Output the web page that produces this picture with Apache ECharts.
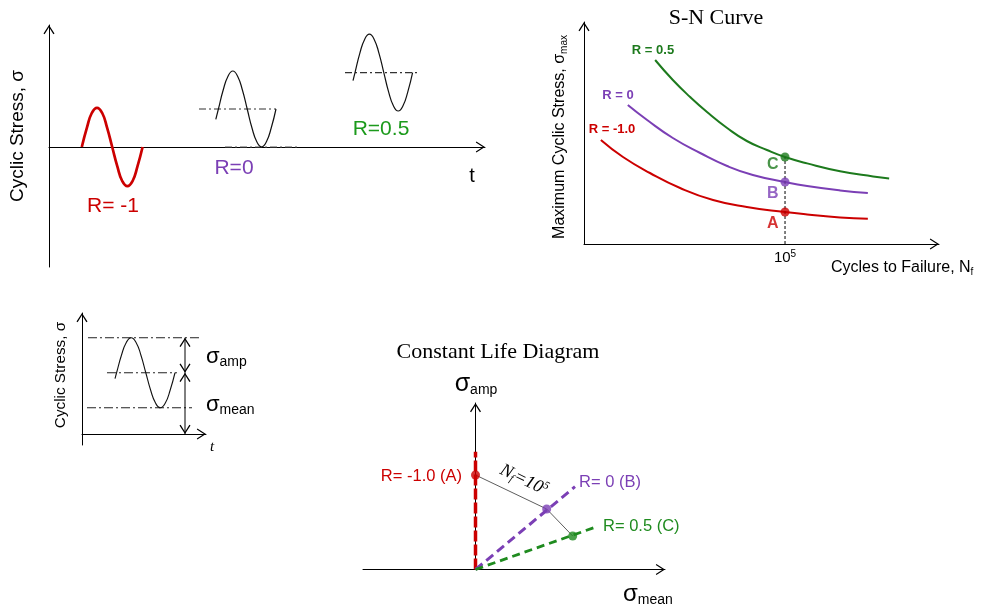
<!DOCTYPE html>
<html>
<head>
<meta charset="utf-8">
<script src="https://cdn.jsdelivr.net/npm/echarts@6/dist/echarts.min.js"></script>
<style>
  html, body { margin: 0; padding: 0; background: #fff; }
  #chart { width: 981px; height: 608px; }
</style>
</head>
<body>
<div id="chart"></div>
<script>
// ---------- Cyclic stress histories (t, σ), σ in units of the fully reversed amplitude ----------
const waveRm1 = [[0.82,0],[0.95,0.49],[1.07,0.85],[1.20,0.98],[1.33,0.85],[1.45,0.49],[1.58,0],
                 [1.71,-0.49],[1.83,-0.85],[1.96,-0.98],[2.09,-0.85],[2.21,-0.49],[2.34,0]];
const waveR0 = [[4.17,0.69],[4.235,0.95],[4.355,1.425],[4.475,1.77],[4.595,1.90],[4.715,1.77],[4.835,1.425],
                [4.955,0.95],[5.075,0.475],[5.195,0.13],[5.315,0.0],[5.435,0.13],[5.555,0.475],[5.675,0.95]];
const meanR0 = [[3.75,0.95],[5.675,0.95]];
const minR0 = [[4.4,0],[6.275,0]];
const waveR05 = [[7.60,1.66],[7.65,1.86],[7.77,2.34],[7.89,2.69],[8.01,2.82],[8.13,2.69],[8.25,2.34],
                 [8.37,1.86],[8.49,1.38],[8.61,1.03],[8.73,0.90],[8.85,1.03],[8.97,1.38],[9.09,1.86]];
const meanR05 = [[7.40,1.86],[9.275,1.86]];

// ---------- S-N curves: x = log10(cycles to failure), y = maximum cyclic stress ----------
const snR05 = [[1.77,92],[2.21,82],[2.64,73.5],[3.06,66],[3.56,58],[4.05,51.5],[4.55,47],[5.0,43.5],
               [5.55,40.3],[6.37,36.4],[7.19,33.8],[7.59,32.8]];
const snR0 = [[1.09,69.5],[1.57,62],[2.21,53],[2.89,45.5],[3.56,39],[4.20,34.5],[5.0,31],[5.55,29],
              [6.37,26.8],[7.06,25.5]];
const snRm1 = [[0.42,52],[0.97,43.5],[1.64,35.5],[2.39,28],[3.21,22],[4.05,18.5],[5.0,16],[5.55,14.8],
               [6.37,13.3],[7.06,12.6]];
const snLogLife = 5;                       // N_f = 10^5
const snPointNames = ['A', 'B', 'C'];
const snPointStress = [16, 31, 43.5];

// ---------- Amplitude / mean definition sketch ----------
const defWave = [[0.943,1.58],[0.988,1.75],[1.127,2.25],[1.266,2.616],[1.405,2.75],[1.545,2.616],[1.684,2.25],
                 [1.823,1.75],[1.962,1.25],[2.101,0.884],[2.24,0.75],[2.38,0.884],[2.518,1.25],[2.657,1.75]];
const defMaxLine = [[0.171,2.75],[3.371,2.75]];
const defMeanLine = [[0.714,1.75],[2.714,1.75]];
const defMinLine = [[0.143,0.75],[3.143,0.75]];
const defAmpArrow = [[2.943,2.75],[2.943,1.75]];
const defMeanArrow = [[2.943,1.75],[2.943,0]];

// ---------- Constant life diagram (σ_mean, σ_amp) ----------
const clRayRm1 = [[0,0],[0,117.8]];
const clRayR0 = [[0,0],[99.5,82.8]];
const clRayR05 = [[0,0],[119.5,42.2]];
const clLife = [[0,94.5],[71.2,60.5],[97.2,33.5]];   // A, B, C at N_f = 10^5

// ---------- styling ----------
const SANS = "'Liberation Sans', Arial, Helvetica, sans-serif";
const SERIF = "'Liberation Serif', 'Times New Roman', serif";
const RED = '#cc0000';
const PURPLE = '#7b3fb5';
const GREEN_T = '#1c9a1c';
const GREEN_SN = '#1d7a1d';
const GREEN_CL = '#1f8b1f';
const DASHDOT = [7, 3, 2, 3];
// open chevron, tip at the centre of its bounding box
const ARROW = 'path://M5,0.2L5,0.2M5,9.4L10.5,18L9.4,18.6L5,11.6L0.6,18.6L-0.5,18Z';
const ARROW_SIZE = [11, 18.4];

function grid(left, top, width, height) {
  return { left, top, width, height, show: false, containLabel: false, outerBoundsMode: 'none' };
}
function axis(gridIndex, min, max, extra) {
  return Object.assign({
    type: 'value', gridIndex, min, max,
    axisLine: { show: true, onZero: true, symbol: ['none', ARROW], symbolSize: ARROW_SIZE,
                lineStyle: { color: '#000', width: 1 } },
    axisTick: { show: false }, axisLabel: { show: false }, splitLine: { show: false }
  }, extra || {});
}
function line(g, data, color, width, extra) {
  return Object.assign({
    type: 'line', xAxisIndex: g, yAxisIndex: g, data, symbol: 'none', silent: true,
    lineStyle: { color, width }
  }, extra || {});
}
function dashed(g, data, color, width, type) {
  return line(g, data, color, width, { lineStyle: { color, width, type } });
}
function arrowed(g, data) {
  return line(g, data, '#000', 1, {
    symbol: ARROW, symbolSize: ARROW_SIZE, symbolKeepAspect: false, showSymbol: true,
    itemStyle: { color: '#000' },
    data: data.map((p, i) => ({ value: p, symbolRotate: i === 0 ? 0 : 180 }))
  });
}
function text(x, y, str, style, rotation) {
  return {
    type: 'text', x, y, rotation: rotation || 0, silent: true, z: 10,
    style: Object.assign({ text: str, fill: '#000', fontFamily: SANS, fontSize: 14,
                           align: 'center', verticalAlign: 'middle' }, style || {})
  };
}
function subRich(main, sub, color, family) {
  return {
    g: { fontFamily: family || SANS, fontSize: main, lineHeight: main + 2, color: color || '#000' },
    s: { fontFamily: family || SANS, fontSize: sub, lineHeight: sub - 3, verticalAlign: 'bottom', color: color || '#000' }
  };
}
const boldLabel = (c) => ({ fontWeight: 'bold', fontSize: 13, fill: c });

const series = [
  // cyclic histories
  line(0, waveRm1, RED, 2.7, { smooth: true }),
  dashed(0, meanR0, '#333', 1.2, DASHDOT),
  dashed(0, minR0, '#555', 1.2, DASHDOT),
  line(0, waveR0, '#111', 1.2, { smooth: true }),
  dashed(0, meanR05, '#333', 1.2, DASHDOT),
  line(0, waveR05, '#111', 1.2, { smooth: true }),

  // S-N curves
  line(1, snRm1, RED, 2, { smooth: true }),
  line(1, snR0, PURPLE, 2, { smooth: true }),
  line(1, snR05, GREEN_SN, 2, { smooth: true }),
  dashed(1, [[snLogLife, 0], [snLogLife, snPointStress[2]]], '#000', 1, [3, 2]),
  {
    type: 'scatter', xAxisIndex: 1, yAxisIndex: 1, symbolSize: 9, silent: true, z: 5,
    data: snPointStress.map((s, i) => {
      const c = [RED, PURPLE, GREEN_SN][i];
      return {
        value: [snLogLife, s], itemStyle: { color: c },
        label: { show: true, formatter: snPointNames[i], position: 'left', distance: 2,
                 offset: [0, i === 2 ? 8 : 12], color: c, fontFamily: SANS, fontWeight: 'bold', fontSize: 16 }
      };
    })
  },

  // amplitude / mean sketch
  dashed(2, defMaxLine, '#222', 1, [9, 3, 2, 3]),
  dashed(2, defMeanLine, '#222', 1, [9, 3, 2, 3]),
  dashed(2, defMinLine, '#222', 1, [9, 3, 2, 3]),
  line(2, defWave, '#111', 1.1, { smooth: true }),
  arrowed(2, defAmpArrow),
  arrowed(2, defMeanArrow),

  // constant life diagram
  dashed(3, clRayRm1, RED, 3.5, [11, 3]),
  dashed(3, clRayR0, PURPLE, 3, [9, 5]),
  dashed(3, clRayR05, GREEN_CL, 2.8, [8, 5]),
  line(3, clLife, '#333', 0.8, { z: 4 }),
  {
    type: 'scatter', xAxisIndex: 3, yAxisIndex: 3, symbolSize: 9, silent: true, z: 5,
    data: clLife.map((p, i) => ({ value: p, itemStyle: { color: [RED, PURPLE, GREEN_CL][i] } }))
  }
];

const graphics = [
  // cyclic histories
  text(18, 136, 'Cyclic Stress, σ', { fontSize: 19 }, Math.PI / 2),
  text(472, 176, 't', { fontSize: 20 }),
  text(113, 206, 'R= -1', { fontSize: 21, fill: RED }),
  text(234, 168, 'R=0', { fontSize: 21, fill: PURPLE }),
  text(381, 129, 'R=0.5', { fontSize: 21, fill: GREEN_T }),

  // S-N curves
  text(716, 18, 'S-N Curve', { fontFamily: SERIF, fontSize: 22 }),
  text(560, 137, '{g|Maximum Cyclic Stress, σ}{s|max}', { rich: subRich(16, 10) }, Math.PI / 2),
  text(831, 268, '{g|Cycles to Failure, N}{s|f}', { align: 'left', rich: subRich(16, 10) }),
  text(653, 50, 'R = 0.5', boldLabel(GREEN_SN)),
  text(618, 95, 'R = 0', boldLabel(PURPLE)),
  text(612, 129, 'R = -1.0', boldLabel(RED)),

  // amplitude / mean sketch
  text(61, 375, 'Cyclic Stress, σ', { fontSize: 15.3 }, Math.PI / 2),
  text(212, 447, 't', { fontFamily: SERIF, fontStyle: 'italic', fontSize: 15 }),
  text(206, 357, '{g|σ}{s|amp}', { align: 'left', rich: subRich(22, 14) }),
  text(206, 405, '{g|σ}{s|mean}', { align: 'left', rich: subRich(22, 14) }),

  // constant life diagram
  text(498, 352, 'Constant Life Diagram', { fontFamily: SERIF, fontSize: 22 }),
  text(476, 384, '{g|σ}{s|amp}', { rich: subRich(25, 14) }),
  text(623, 594, '{g|σ}{s|mean}', { align: 'left', rich: subRich(24, 14) }),
  text(462, 476, 'R= -1.0 (A)', { align: 'right', fontSize: 16.5, fill: RED }),
  text(579, 482, 'R= 0 (B)', { align: 'left', fontSize: 16.5, fill: PURPLE }),
  text(603, 526, 'R= 0.5 (C)', { align: 'left', fontSize: 16.5, fill: GREEN_CL }),
  text(524, 480, '{n|N}{s|f}{n|=10}{p|5}', {
    rich: {
      n: { fontFamily: SERIF, fontStyle: 'italic', fontSize: 18, lineHeight: 20 },
      s: { fontFamily: SERIF, fontStyle: 'italic', fontSize: 11, lineHeight: 8, verticalAlign: 'bottom' },
      p: { fontFamily: SERIF, fontStyle: 'italic', fontSize: 11, lineHeight: 8, verticalAlign: 'top' }
    }
  }, -0.45)
];

const option = {
  animation: false,
  backgroundColor: '#fff',
  grid: [
    grid(49, 25, 436, 242),
    grid(584, 22, 355, 222),
    grid(82, 313, 124, 132),
    grid(363, 403, 302, 166.5)
  ],
  xAxis: [
    axis(0, 0, 10.9),
    axis(1, 0, 8.83, {
      interval: 5,
      axisLabel: {
        show: true, margin: 5, showMinLabel: false, showMaxLabel: false,
        formatter: v => (v === snLogLife ? '{b|10}{p|5}' : ''),
        rich: {
          b: { fontFamily: SANS, fontSize: 15, lineHeight: 17, color: '#000' },
          p: { fontFamily: SANS, fontSize: 10, lineHeight: 8, verticalAlign: 'top', color: '#000' }
        }
      }
    }),
    axis(2, 0, 3.543),
    axis(3, -112.5, 189.5)
  ],
  yAxis: [
    axis(0, -3, 3.05),
    axis(1, 0, 111),
    axis(2, -0.314, 3.457),
    axis(3, 0, 166.5)
  ],
  series,
  graphic: graphics
};

const chart = echarts.init(document.getElementById('chart'), null, { renderer: 'canvas' });
chart.setOption(option);
</script>
</body>
</html>
